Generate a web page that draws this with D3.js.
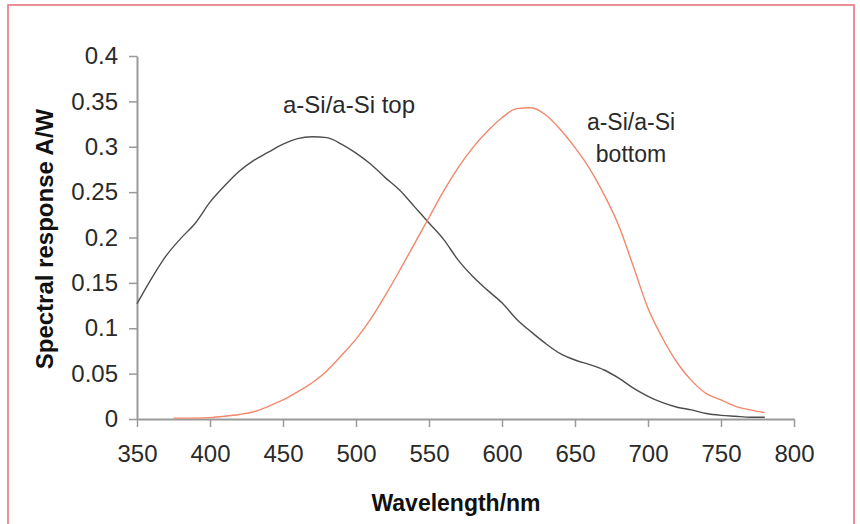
<!DOCTYPE html>
<html>
<head>
<meta charset="utf-8">
<script src="https://cdn.jsdelivr.net/npm/d3@7"></script>
<style>
  html, body { margin: 0; padding: 0; background: #fff; }
  svg { display: block; font-family: "Liberation Sans", Arial, sans-serif; }
</style>
</head>
<body>
<svg id="chart" width="860" height="524"></svg>
<script>
// ---- data ----
const topWavelengths = [350,360,370,380,390,400,410,420,430,440,450,460,470,480,490,500,510,520,530,540,550,560,570,580,590,600,610,620,630,640,650,660,670,680,690,700,710,720,730,740,750,760,770,780];
const topValues = [0.127,0.155,0.180,0.199,0.216,0.239,0.257,0.273,0.285,0.294,0.303,0.309,0.311,0.310,0.303,0.293,0.281,0.266,0.252,0.234,0.216,0.198,0.175,0.157,0.142,0.128,0.110,0.096,0.083,0.072,0.065,0.060,0.054,0.045,0.034,0.025,0.018,0.013,0.010,0.006,0.004,0.003,0.002,0.002];
const bottomWavelengths = [375,390,400,410,420,430,440,450,460,470,480,490,500,510,520,530,540,550,560,570,580,590,600,610,620,630,640,650,660,670,680,690,700,710,720,730,740,750,760,770,780];
const bottomValues = [0.001,0.001,0.0015,0.003,0.005,0.008,0.014,0.021,0.030,0.040,0.053,0.070,0.088,0.110,0.136,0.164,0.193,0.222,0.251,0.277,0.299,0.317,0.332,0.342,0.343,0.335,0.319,0.299,0.276,0.247,0.213,0.168,0.122,0.089,0.062,0.042,0.028,0.021,0.014,0.010,0.007];
const xTicks = [350,400,450,500,550,600,650,700,750,800];
const yTicks = [0,0.05,0.1,0.15,0.2,0.25,0.3,0.35,0.4];
const seriesLabels = ["a-Si/a-Si top", ["a-Si/a-Si", "bottom"]];
const xTitle = "Wavelength/nm";
const yTitle = "Spectral response A/W";

(function () {
// ---- layout ----
const svg = d3.select("#chart");
const mLeft = 137, mRight = 794, mTop = 56, mBottom = 419;
const x = d3.scaleLinear().domain([350, 800]).range([mLeft, mRight]);
const y = d3.scaleLinear().domain([0, 0.4]).range([mBottom, mTop]);

// frame
svg.append("rect").attr("x", 8).attr("y", 5).attr("width", 846).attr("height", 540)
  .attr("fill", "none").attr("stroke", "#e8737c").attr("stroke-width", 1.6);

const axisColor = "#9a9a9a";
const textColor = "#2a2a2a";

// x axis
const xAxis = svg.append("g").attr("transform", `translate(0,${mBottom})`)
  .call(d3.axisBottom(x).tickValues(xTicks).tickSize(8).tickSizeOuter(0).tickPadding(18).tickFormat(d3.format("d")));
xAxis.select(".domain").attr("stroke", axisColor).attr("stroke-width", 2);
xAxis.selectAll(".tick line").attr("stroke", axisColor).attr("stroke-width", 1.5);
xAxis.selectAll(".tick text").attr("fill", textColor).attr("font-size", 24)
  .attr("font-family", "Liberation Sans, Arial, sans-serif");

// y axis
const yAxis = svg.append("g").attr("transform", `translate(${mLeft},0)`)
  .call(d3.axisLeft(y).tickValues(yTicks).tickSize(8).tickSizeOuter(0).tickPadding(11).tickFormat(d => String(+d.toFixed(2))));
yAxis.select(".domain").attr("stroke", axisColor).attr("stroke-width", 2);
yAxis.selectAll(".tick line").attr("stroke", axisColor).attr("stroke-width", 1.5);
yAxis.selectAll(".tick text").attr("fill", textColor).attr("font-size", 24)
  .attr("font-family", "Liberation Sans, Arial, sans-serif");

// titles
svg.append("text").attr("x", 456).attr("y", 511).attr("text-anchor", "middle")
  .attr("font-size", 23).attr("font-weight", "bold").attr("fill", "#111").text(xTitle);
svg.append("text").attr("transform", "translate(53,239) rotate(-90)").attr("text-anchor", "middle")
  .attr("font-size", 24).attr("font-weight", "bold").attr("fill", "#111").text(yTitle);

// lines
const line = d3.line().x(d => x(d[0])).y(d => y(d[1])).curve(d3.curveMonotoneX);
svg.append("path").datum(topWavelengths.map((w, i) => [w, topValues[i]]))
  .attr("d", line).attr("fill", "none").attr("stroke", "#4d4d4d").attr("stroke-width", 1.4);
svg.append("path").datum(bottomWavelengths.map((w, i) => [w, bottomValues[i]]))
  .attr("d", line).attr("fill", "none").attr("stroke", "#f2876b").attr("stroke-width", 1.4);

// labels
svg.append("text").attr("x", 349).attr("y", 113).attr("text-anchor", "middle")
  .attr("font-size", 24).attr("fill", textColor).text(seriesLabels[0]);
const bl = svg.append("text").attr("text-anchor", "middle").attr("font-size", 23).attr("fill", textColor);
bl.append("tspan").attr("x", 631).attr("y", 130).text(seriesLabels[1][0]);
bl.append("tspan").attr("x", 631).attr("y", 162).text(seriesLabels[1][1]);
})();
</script>
</body>
</html>
